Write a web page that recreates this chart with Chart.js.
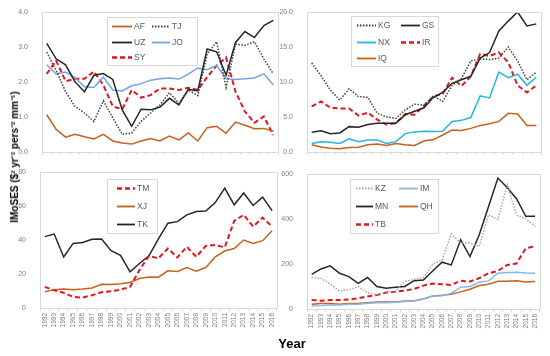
<!DOCTYPE html>
<html><head><meta charset="utf-8">
<script src="https://cdn.jsdelivr.net/npm/chart.js@4.4.1/dist/chart.umd.min.js"></script>
<style>
html,body{margin:0;padding:0;background:#fff;width:550px;height:356px;overflow:hidden;}
canvas{position:absolute;}
#ytitle{position:absolute;left:14px;top:157px;transform:translate(-50%,-50%) rotate(-90deg);white-space:nowrap;font:bold 10px "Liberation Sans",Arial,sans-serif;color:#000;}
#xtitle{position:absolute;left:292px;top:343px;transform:translate(-50%,-50%);font:bold 13px "Liberation Sans",Arial,sans-serif;color:#000;}
</style></head><body>
<canvas id="c1" width="282" height="162" style="left:0;top:0"></canvas>
<canvas id="c2" width="275" height="162" style="left:270px;top:0"></canvas>
<canvas id="c3" width="282" height="180" style="left:0;top:160px"></canvas>
<canvas id="c4" width="275" height="180" style="left:270px;top:160px"></canvas>
<div id="ytitle">IMoSES ($² yr⁻² pers⁻² mm⁻¹)</div>
<div id="xtitle">Year</div>
<script>
const years = ['1992','1993','1994','1995','1996','1997','1998','1999','2000','2001','2002','2003','2004','2005','2006','2007','2008','2009','2010','2011','2012','2013','2014','2015','2016'];

// Panel 1
const AF = [1.06,0.64,0.42,0.50,0.43,0.37,0.50,0.31,0.25,0.22,0.31,0.38,0.31,0.45,0.34,0.54,0.31,0.69,0.73,0.53,0.85,0.76,0.66,0.67,0.59];
const UZ = [3.10,2.66,2.49,2.00,1.72,2.19,2.24,2.07,1.20,0.73,1.22,1.20,1.28,1.53,1.34,1.79,1.74,2.94,2.86,2.19,3.13,3.44,3.27,3.61,3.76];
const TJ = [2.85,2.33,1.72,1.30,1.11,0.87,1.46,0.97,0.50,0.54,0.87,1.11,1.34,1.69,1.39,1.77,1.61,2.80,3.15,1.84,3.08,3.05,3.15,2.66,2.23];
const JO = [2.49,2.23,2.28,2.12,1.86,1.84,2.14,1.77,1.74,1.89,1.95,2.05,2.09,2.11,2.08,2.22,2.40,2.35,2.47,2.09,2.07,2.09,2.11,2.23,1.92];
const SY = [2.23,2.61,2.02,2.09,2.09,2.30,1.91,1.30,1.22,1.77,1.55,1.62,1.81,1.81,1.77,1.83,1.77,2.14,2.47,2.70,1.72,1.15,0.83,1.01,0.48];
// Panel 2
const KG = [12.7,10.9,8.8,7.4,9.0,7.9,7.8,5.5,5.0,4.8,6.0,6.8,6.7,8.0,7.2,9.5,10.5,13.0,13.3,13.2,13.4,15.0,13.0,10.3,11.4];
const GS = [2.8,3.0,2.6,2.7,3.6,3.5,3.9,4.1,4.1,4.1,5.3,5.8,6.3,7.8,8.5,9.8,10.3,10.8,13.4,14.2,17.3,18.7,20.0,18.0,18.3];
const NX = [1.2,1.45,1.35,1.2,1.85,1.45,1.7,1.7,1.2,1.45,2.6,2.85,2.95,2.9,2.95,4.35,4.5,4.9,8.0,7.7,11.4,10.6,11.1,9.5,10.7];
const IR = [6.5,7.2,6.3,6.2,6.2,5.2,5.6,4.6,3.9,4.1,5.4,5.3,6.6,7.9,8.3,10.6,9.4,10.8,14.0,13.7,14.2,12.8,9.5,8.5,9.5];
const IQ = [1.0,0.7,0.5,0.45,0.6,0.65,1.0,1.1,0.9,1.2,1.0,0.9,1.55,1.75,2.4,3.1,3.05,3.35,3.75,4.0,4.35,5.5,5.4,3.75,3.75];
// Panel 3
const TM = [12.4,10.4,9.0,6.5,6.1,7.5,9.3,9.9,10.8,12.4,22.3,30.7,29.2,35.0,29.8,36.0,30.1,36.5,37.0,35.7,51.2,54.8,47.9,53.2,47.9];
const XJ = [9.5,10.8,11.2,10.8,11.2,11.8,14.0,13.8,14.2,15.0,17.3,18.3,18.1,21.9,21.5,23.8,21.7,23.8,30.1,33.5,35.0,40.0,38.0,39.6,45.5];
const TK = [42.0,43.5,30.0,38.0,38.5,40.4,40.6,33.7,31.0,21.3,26.2,30.7,40.6,49.9,50.8,54.8,56.7,57.0,62.0,70.5,60.7,67.6,60.3,65.2,57.3];
// Panel 4
const KZ = [140,137,111,80,85,100,73,62,77,80,122,132,140,199,218,333,293,293,278,419,397,552,419,401,367];
const IM = [13,15,18,18,21,21,25,28,28,30,33,36,43,58,59,70,97,100,119,125,159,162,163,160,159];
const MN = [154,178,192,159,144,114,140,100,92,97,100,126,129,169,208,196,308,233,330,456,582,540,490,412,412];
const QH = [21,24,24,21,24,25,28,31,31,31,36,37,45,58,61,65,76,88,104,110,123,123,125,120,122];
const TB = [40,37,40,40,42,48,56,62,73,77,82,89,104,113,110,107,126,122,137,159,169,196,202,270,278];

const ORANGE='#c8601c', BLACK='#262626', GRAY='#404040', LGRAY='#a6a6a6', BLUE='#74a3e4', RED='#e3141c', CYAN='#1fb4f0', LBLUE='#86b8ea';
const FONT='"Liberation Sans", Arial, sans-serif';

function ds(label, data, color, kind){
  const d={label, data, borderColor:color, backgroundColor:color, borderWidth:1.5, pointRadius:0, tension:0, fill:false};
  if(kind==='dash'){d.borderDash=[5,3]; d.borderWidth=2;}
  if(kind==='dot'){d.borderDash=[1.5,1.5]; d.borderWidth=1.5;}
  return d;
}

const boxPlugin = {
  id:'boxLegend',
  afterDraw(chart, args, opts){
    const ctx=chart.ctx, a=chart.chartArea;
    ctx.save();
    ctx.strokeStyle='#d9d9d9'; ctx.lineWidth=1;
    ctx.strokeRect(Math.round(a.left)+0.5, Math.round(a.top)+0.5, Math.round(a.right-a.left), Math.round(a.bottom-a.top));
    const b=opts.box;
    ctx.fillStyle='#fff';
    ctx.fillRect(b[0],b[1],b[2],b[3]);
    ctx.strokeStyle='#d9d9d9';
    ctx.strokeRect(b[0]+0.5,b[1]+0.5,b[2],b[3]);
    ctx.font='8.5px '+FONT; ctx.textBaseline='middle'; ctx.textAlign='left';
    opts.items.forEach(it=>{
      const d=chart.data.datasets[it.i];
      ctx.strokeStyle=d.borderColor; ctx.lineWidth=d.borderWidth+0.3;
      ctx.setLineDash(d.borderDash||[]);
      ctx.beginPath(); ctx.moveTo(it.x, it.y+0.5); ctx.lineTo(it.x+it.w, it.y+0.5); ctx.stroke();
      ctx.setLineDash([]);
      ctx.fillStyle='#595959';
      ctx.fillText(d.label, it.x+it.w+2, it.y+0.5);
    });
    ctx.restore();
  }
};

function make(id, datasets, yMax, step, dec, geom, legend){
  new Chart(document.getElementById(id), {
    type:'line',
    data:{labels:years, datasets},
    plugins:[boxPlugin],
    options:{
      responsive:false, animation:false, devicePixelRatio:1,
      layout:{padding:{top:geom.top, right:geom.right, left:0, bottom:0}},
      plugins:{legend:{display:false}, tooltip:{enabled:false}, boxLegend:legend},
      scales:{
        x:{
          offset:true,
          grid:{display:true, offset:true, drawOnChartArea:false, tickLength:3, color:'#d9d9d9'},
          border:{display:false},
          ticks:{display:geom.xlabels, minRotation:90, maxRotation:90, autoSkip:false, font:{size:6.5, family:FONT}, color:'#7f7f7f', padding:2},
          afterFit(s){ s.height=geom.xh; }
        },
        y:{
          min:0, max:yMax,
          grid:{display:false},
          border:{display:false},
          ticks:{stepSize:step, font:{size:7, family:FONT}, color:'#7f7f7f', padding:6, callback:v=>Number(v).toFixed(dec)},
          afterFit(s){ s.width=geom.yw; }
        }
      }
    }
  });
}

make('c1', [ds('AF',AF,ORANGE), ds('UZ',UZ,BLACK), ds('TJ',TJ,GRAY,'dot'), ds('JO',JO,BLUE), ds('SY',SY,RED,'dash')],
  4, 1, 1, {top:12, right:4, yw:42, xh:8, xlabels:false},
  {box:[107,17,90,48], items:[{i:0,x:112,y:26,w:20},{i:2,x:152,y:26,w:18},{i:1,x:112,y:42,w:20},{i:3,x:152,y:42,w:18},{i:4,x:112,y:57,w:20}]});

make('c2', [ds('KG',KG,GRAY,'dot'), ds('GS',GS,BLACK), ds('NX',NX,CYAN), ds('IR',IR,RED,'dash'), ds('IQ',IQ,ORANGE)],
  20, 5, 1, {top:12, right:4, yw:37, xh:8, xlabels:false},
  {box:[81,16,87,50], items:[{i:0,x:87,y:25,w:19},{i:1,x:131,y:25,w:19},{i:2,x:87,y:42,w:19},{i:3,x:131,y:42,w:19},{i:4,x:87,y:58,w:19}]});

make('c3', [ds('TM',TM,RED,'dash'), ds('XJ',XJ,ORANGE), ds('TK',TK,BLACK)],
  80, 20, 0, {top:12, right:5, yw:40, xh:32, xlabels:true},
  {box:[107,19,50,54], items:[{i:0,x:117,y:28,w:18},{i:1,x:117,y:46,w:18},{i:2,x:117,y:64,w:18}]});

make('c4', [ds('KZ',KZ,LGRAY,'dot'), ds('IM',IM,LBLUE), ds('MN',MN,BLACK), ds('QH',QH,ORANGE), ds('TB',TB,RED,'dash')],
  600, 200, 0, {top:14, right:4, yw:37, xh:31, xlabels:true},
  {box:[80,19,88,54], items:[{i:0,x:86,y:28,w:17},{i:1,x:129,y:28,w:19},{i:2,x:86,y:46,w:17},{i:3,x:129,y:46,w:19},{i:4,x:86,y:64,w:17}]});
</script>
</body></html>
